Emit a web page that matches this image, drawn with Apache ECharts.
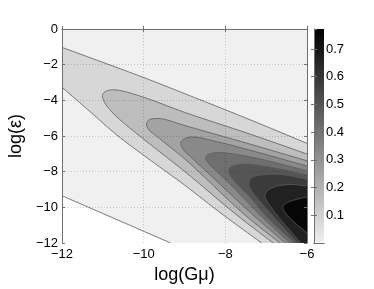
<!DOCTYPE html>
<html>
<head>
<meta charset="utf-8">
<script src="https://cdn.jsdelivr.net/npm/echarts@6/dist/echarts.min.js"></script>
<style>html,body{margin:0;padding:0;background:#fff}#c{width:374px;height:289px}</style>
</head>
<body>
<div id="c"></div>
<script>
// ---------- data ----------
const xTicks = [-12, -10, -8, -6];
const yTicks = [0, -2, -4, -6, -8, -10, -12];
const cbTicks = [0.1, 0.2, 0.3, 0.4, 0.5, 0.6, 0.7];
const cbRange = [0.003, 0.772];
// contour level values (lowest to highest)
const levelValues = [0.01, 0.08, 0.15, 0.22, 0.29, 0.36, 0.43, 0.50, 0.57, 0.64];

// contour curves, points are [log(Gmu), log(eps)]
const contourC = [[-12,-9.35],[-9.34,-12]];
const contourA = [[-12,-1.03],[-11,-1.87],[-10,-2.72],[-9,-3.62],[-8,-4.53],[-7,-5.46],[-6,-6.41]];
const contourB = [[-12,-3.27],[-11.31,-4.64],[-10.66,-5.94],[-9.84,-7.35],[-9,-8.75],[-8.05,-10.43],[-7.11,-12]];
const contourD = [[-6,-7.01],[-7.40,-5.89],[-8.99,-4.68],[-10.02,-3.81],[-10.58,-3.45],[-10.82,-3.42],[-10.97,-3.56],[-11.01,-3.76],[-10.95,-4.15],[-10.78,-4.65],[-10.46,-5.33],[-10.13,-5.94],[-9.60,-6.90],[-8.99,-8.00],[-7.72,-10.43],[-6.83,-12]];
const contourE = [[-6,-7.39],[-7.40,-6.45],[-9.04,-5.38],[-9.48,-5.07],[-9.70,-5.02],[-9.87,-5.10],[-9.93,-5.33],[-9.87,-5.66],[-9.72,-5.94],[-9.48,-6.39],[-8.99,-7.29],[-7.52,-10.43],[-6.66,-12]];
const contourF = [[-6,-7.68],[-7.40,-6.79],[-8.38,-6.22],[-8.74,-6.06],[-8.96,-6.11],[-9.09,-6.36],[-9.04,-6.73],[-8.82,-7.23],[-8.50,-7.91],[-7.32,-10.43],[-6.53,-12]];
const contourG = [[-6,-7.95],[-7.15,-7.29],[-8.01,-6.95],[-8.30,-6.95],[-8.45,-7.09],[-8.48,-7.26],[-8.42,-7.51],[-8.25,-7.91],[-7.89,-8.69],[-7.15,-10.43],[-6.42,-12]];
const contourH = [[-6,-8.17],[-6.91,-7.74],[-7.52,-7.57],[-7.76,-7.63],[-7.89,-7.79],[-7.91,-8.02],[-7.86,-8.30],[-7.69,-8.75],[-7.40,-9.42],[-7.03,-10.43],[-6.31,-12]];
const contourI = [[-6,-8.42],[-6.66,-8.15],[-7.10,-8.19],[-7.32,-8.30],[-7.41,-8.52],[-7.42,-8.75],[-7.37,-9.03],[-7.20,-9.53],[-6.86,-10.43],[-6.23,-12]];
const contourJ = [[-6,-8.80],[-6.42,-8.72],[-6.78,-8.84],[-6.96,-9.05],[-7.03,-9.31],[-6.98,-9.65],[-6.88,-9.98],[-6.74,-10.43],[-6.15,-12]];
const contourK = [[-6,-9.42],[-6.30,-9.58],[-6.50,-9.75],[-6.59,-9.98],[-6.55,-10.25],[-6.40,-10.65],[-6,-11.44]];

const uCurves = [contourD, contourE, contourF, contourG, contourH, contourI, contourJ, contourK];

// ---------- styling ----------
const bandColors = ['#f0f0f0','#d7d7d7','#bdbdbd','#a3a3a3','#898989','#6f6f6f','#555555','#3b3b3b','#212121','#060606'];
const lineColor = '#5c5c5c';
const axisColor = '#707070';
const font = "'Liberation Sans', Arial, Helvetica, sans-serif";
const XMIN = -12, XMAX = -6, YMIN = -12, YMAX = 0;

function catmull(p, seg) {
  if (p.length < 3) return p.slice();
  const n = p.length, out = [];
  const ext = (a, b) => [2 * a[0] - b[0], 2 * a[1] - b[1]];
  const d = (a, b) => Math.max(1e-6, Math.pow(Math.hypot(b[0] - a[0], b[1] - a[1]), 0.5));
  for (let i = 0; i < n - 1; i++) {
    const P0 = i > 0 ? p[i - 1] : ext(p[0], p[1]);
    const P1 = p[i], P2 = p[i + 1];
    const P3 = i + 2 < n ? p[i + 2] : ext(p[n - 1], p[n - 2]);
    const t0 = 0, t1 = t0 + d(P0, P1), t2 = t1 + d(P1, P2), t3 = t2 + d(P2, P3);
    for (let s = 0; s < seg; s++) {
      const t = t1 + (t2 - t1) * s / seg;
      const L = (A, B, ta, tb) => [ (tb - t) / (tb - ta) * A[0] + (t - ta) / (tb - ta) * B[0],
                                    (tb - t) / (tb - ta) * A[1] + (t - ta) / (tb - ta) * B[1] ];
      const A1 = L(P0, P1, t0, t1), A2 = L(P1, P2, t1, t2), A3 = L(P2, P3, t2, t3);
      const B1 = L(A1, A2, t0, t2), B2 = L(A2, A3, t1, t3);
      out.push(L(B1, B2, t1, t2));
    }
  }
  out.push(p[n - 1]);
  return out;
}

function lineEl(pts) {
  return { type: 'polyline', shape: { points: pts }, style: { stroke: lineColor, lineWidth: 0.8, fill: null } };
}

function renderContour(params, api) {
  const i = params.dataIndex;
  const px = arr => arr.map(q => api.coord(q));
  let fill, lines;
  if (i === 0) {
    const c = px(contourC);
    fill = c.concat(px([[XMAX, YMIN], [XMAX, YMAX], [XMIN, YMAX]]));
    lines = [c];
  } else if (i === 1) {
    const a = catmull(px(contourA), 8), b = catmull(px(contourB), 8);
    fill = a.concat(px([[XMAX, YMIN]])).concat(b.slice().reverse());
    lines = [a, b];
  } else {
    const cv = uCurves[i - 2];
    const c = catmull(px(cv), 8);
    const last = cv[cv.length - 1];
    fill = c.slice();
    if (last[1] === YMIN) fill = fill.concat(px([[XMAX, YMIN]]));
    lines = [c];
  }
  return {
    type: 'group',
    children: [{ type: 'polygon', shape: { points: fill }, style: { fill: bandColors[i], stroke: null } }]
      .concat(lines.map(lineEl))
  };
}

function renderBar(params, api) {
  const p0 = api.coord([0, cbRange[0]]);
  const p1 = api.coord([1, cbRange[1]]);
  return {
    type: 'rect',
    shape: { x: p0[0], y: p1[1], width: p1[0] - p0[0], height: p0[1] - p1[1] },
    style: { fill: new echarts.graphic.LinearGradient(0, 0, 0, 1, [
      { offset: 0, color: '#000000' }, { offset: 1, color: '#efefef' }]) }
  };
}

const minus = v => String(v).replace('-', '\u2212');
const lbl = { color: '#000', fontFamily: font, fontSize: 13 };
const baseLine = { show: true, lineStyle: { color: axisColor, width: 1 } };
const tickIn = { show: true, inside: true, length: 3, lineStyle: { color: axisColor } };

const chart = echarts.init(document.getElementById('c'), null, { renderer: 'canvas' });
chart.setOption({
  animation: false,
  backgroundColor: '#fff',
  grid: [
    { left: 62, top: 29, width: 245, height: 214, containLabel: false, outerBoundsMode: 'none' },
    { left: 314, top: 29, width: 10, height: 214, containLabel: false, outerBoundsMode: 'none' }
  ],
  xAxis: [
    { gridIndex: 0, type: 'value', min: XMIN, max: XMAX, interval: 2, position: 'bottom', z: 5,
      axisLine: baseLine, axisTick: tickIn,
      axisLabel: Object.assign({ margin: 5, formatter: v => xTicks.includes(v) ? minus(v) : '' }, lbl),
      splitLine: { show: true, showMinLine: false, showMaxLine: false, lineStyle: { color: 'rgba(0,0,0,0.18)', type: [1, 2], width: 1 } },
      name: 'log(G\u03bc)', nameLocation: 'middle', nameGap: 11,
      nameTextStyle: { color: '#000', fontFamily: font, fontSize: 18 } },
    { gridIndex: 0, type: 'value', min: XMIN, max: XMAX, interval: 2, position: 'top', z: 5,
      axisLine: baseLine, axisTick: tickIn, axisLabel: { show: false }, splitLine: { show: false } },
    { gridIndex: 1, type: 'value', min: 0, max: 1, position: 'bottom', z: 5,
      axisLine: baseLine, axisTick: { show: false }, axisLabel: { show: false }, splitLine: { show: false } },
    { gridIndex: 1, type: 'value', min: 0, max: 1, position: 'top', z: 5,
      axisLine: baseLine, axisTick: { show: false }, axisLabel: { show: false }, splitLine: { show: false } }
  ],
  yAxis: [
    { gridIndex: 0, type: 'value', min: YMIN, max: YMAX, interval: 2, position: 'left', z: 5,
      axisLine: baseLine, axisTick: tickIn,
      axisLabel: Object.assign({ margin: 4, formatter: v => yTicks.includes(v) ? minus(v) : '' }, lbl),
      splitLine: { show: true, showMinLine: false, showMaxLine: false, lineStyle: { color: 'rgba(0,0,0,0.18)', type: [1, 2], width: 1 } },
      name: 'log(\u03b5)', nameLocation: 'middle', nameGap: 31, nameRotate: 90,
      nameTextStyle: { color: '#000', fontFamily: font, fontSize: 18 } },
    { gridIndex: 0, type: 'value', min: YMIN, max: YMAX, interval: 2, position: 'right', z: 5,
      axisLine: baseLine, axisTick: tickIn, axisLabel: { show: false }, splitLine: { show: false } },
    { gridIndex: 1, type: 'value', min: 0, max: cbRange[1], interval: 0.1, position: 'right', z: 5,
      axisLine: baseLine, axisTick: tickIn,
      axisLabel: Object.assign({ margin: 2, showMinLabel: false, showMaxLabel: false,
        formatter: v => { const r = Math.round(v * 10) / 10; return cbTicks.includes(r) && Math.abs(r - v) < 1e-6 ? r.toFixed(1) : ''; } }, lbl),
      splitLine: { show: false } },
    { gridIndex: 1, type: 'value', min: 0, max: cbRange[1], interval: 0.1, position: 'left', z: 5,
      axisLine: baseLine, axisTick: tickIn, axisLabel: { show: false }, splitLine: { show: false } }
  ],
  series: [
    { type: 'custom', xAxisIndex: 0, yAxisIndex: 0, clip: true, silent: true,
      renderItem: renderContour, data: levelValues.map((v, i) => [XMIN, YMIN, v, i]) },
    { type: 'custom', xAxisIndex: 2, yAxisIndex: 2, silent: true,
      renderItem: renderBar, data: [[0, cbRange[0]]] }
  ]
});
</script>
</body>
</html>
